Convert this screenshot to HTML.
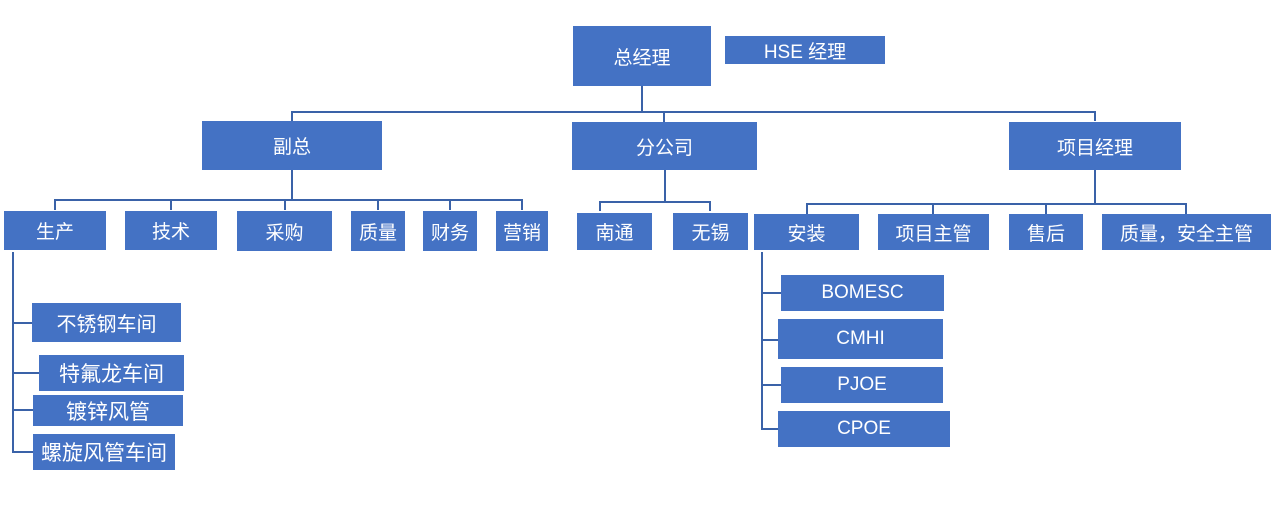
<!DOCTYPE html>
<html><head><meta charset="utf-8"><style>
body{margin:0;width:1278px;height:528px;background:#fff;position:relative;overflow:hidden;font-family:"Liberation Sans","Noto Sans CJK SC",sans-serif}
.b{position:absolute;background:#4472C4;color:#fff;display:flex;align-items:center;justify-content:center;font-size:19px;white-space:nowrap}
svg{position:absolute;left:0;top:0}
</style></head><body>
<svg width="1278" height="528"><g stroke="#3A62A8" stroke-width="2" fill="none">
<path d="M642 86V112M292 121V112H1095V121M664 112V122"/>
<path d="M292 170V200M55 210V200H522V210M171 200V210M285 200V210M378 200V210M450 200V210"/>
<path d="M13 252V452H33M13 323H32M13 373H39M13 410H33"/>
<path d="M665 170V202M600 211V202H710V211"/>
<path d="M1095 170V204M807 214V204H1186V214M933 204V214M1046 204V214"/>
<path d="M762 252V429H778M762 293H781M762 340H778M762 385H781"/>
</g></svg>
<div class="b" style="left:573px;top:26px;width:138px;height:60px">总经理</div>
<div class="b" style="left:725px;top:36px;width:160px;height:28px">HSE 经理</div>
<div class="b" style="left:202px;top:121px;width:180px;height:49px">副总</div>
<div class="b" style="left:572px;top:122px;width:185px;height:48px">分公司</div>
<div class="b" style="left:1009px;top:122px;width:172px;height:48px">项目经理</div>
<div class="b" style="left:4px;top:211px;width:102px;height:39px">生产</div>
<div class="b" style="left:125px;top:211px;width:92px;height:39px">技术</div>
<div class="b" style="left:237px;top:211px;width:95px;height:40px">采购</div>
<div class="b" style="left:351px;top:211px;width:54px;height:40px">质量</div>
<div class="b" style="left:423px;top:211px;width:54px;height:40px">财务</div>
<div class="b" style="left:496px;top:211px;width:52px;height:40px">营销</div>
<div class="b" style="left:32px;top:303px;width:149px;height:39px;font-size:20px">不锈钢车间</div>
<div class="b" style="left:39px;top:355px;width:145px;height:36px;font-size:21px">特氟龙车间</div>
<div class="b" style="left:33px;top:395px;width:150px;height:31px;font-size:21px">镀锌风管</div>
<div class="b" style="left:33px;top:434px;width:142px;height:36px;font-size:21px">螺旋风管车间</div>
<div class="b" style="left:577px;top:213px;width:75px;height:37px">南通</div>
<div class="b" style="left:673px;top:213px;width:75px;height:37px">无锡</div>
<div class="b" style="left:754px;top:214px;width:105px;height:36px">安装</div>
<div class="b" style="left:878px;top:214px;width:111px;height:36px">项目主管</div>
<div class="b" style="left:1009px;top:214px;width:74px;height:36px">售后</div>
<div class="b" style="left:1102px;top:214px;width:169px;height:36px">质量，安全主管</div>
<div class="b" style="left:781px;top:275px;width:163px;height:36px">BOMESC</div>
<div class="b" style="left:778px;top:319px;width:165px;height:40px">CMHI</div>
<div class="b" style="left:781px;top:367px;width:162px;height:36px">PJOE</div>
<div class="b" style="left:778px;top:411px;width:172px;height:36px">CPOE</div>
</body></html>
